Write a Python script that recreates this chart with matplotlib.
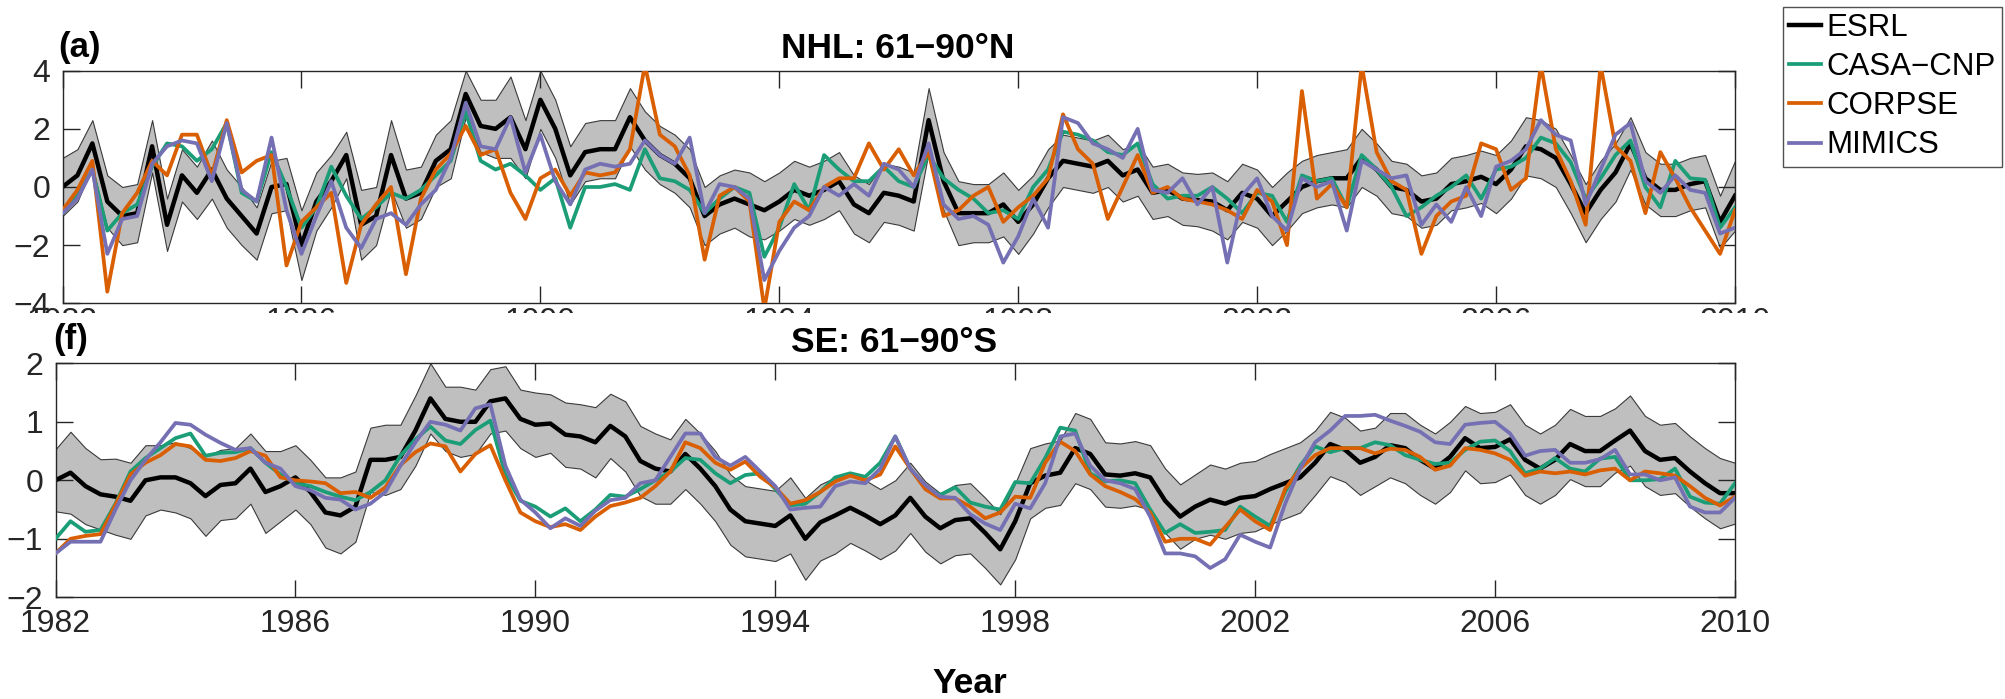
import numpy as np
import matplotlib
matplotlib.use("Agg")
import matplotlib.pyplot as plt
from matplotlib.patches import Rectangle
from matplotlib.lines import Line2D

plt.rcParams['font.family'] = ['Liberation Sans', 'DejaVu Sans']

# ---------------- data (quarterly, 1982.00 ... 2010.00) ----------------
t = np.arange(1982.0, 2010.001, 0.25)

series_names = ['ESRL', 'CASA\u2212CNP', 'CORPSE', 'MIMICS']

# Panel (a) NHL: 61-90N
esrl_n = [0.0, 0.4, 1.5, -0.5,  -1.0, -0.9, 1.4, -1.3,  0.4, -0.2, 0.6, -0.4,  -1.0, -1.6, 0.0, 0.1,
          -2.0, -0.5, 0.2, 1.1,  -1.3, -1.0, 1.1, -0.4,  -0.2, 0.9, 1.3, 3.2,  2.1, 2.0, 2.4, 1.3,
          3.0, 2.0, 0.4, 1.2,  1.3, 1.3, 2.4, 1.6,  1.1, 0.8, 0.3, -1.0,  -0.6, -0.4, -0.6, -0.8,
          -0.5, -0.1, -0.3, -0.1,  0.2, -0.6, -0.9, -0.2,  -0.3, -0.5, 2.3, 0.2,  -0.9, -0.9, -0.9, -0.6,
          -1.2, -0.6, 0.3, 0.9,  0.8, 0.7, 0.9, 0.4,  0.6, -0.2, -0.1, -0.4,  -0.45, -0.5, -0.8, -0.2,
          -0.4, -1.0, -0.5, 0.0,  0.2, 0.3, 0.3, 1.0,  0.6, 0.0, -0.1, -0.5,  -0.4, 0.1, 0.2, 0.35,
          0.1, 0.6, 1.4, 1.3,  1.0, 0.1, -0.9, -0.1,  0.5, 1.5, 0.3, -0.1,  -0.1, 0.1, 0.2, -1.2,
          -0.3]
spread_n = [1.0, 0.9, 0.8, 0.9,  1.0, 1.0, 0.9, 0.9,  0.9, 0.9, 1.0, 1.0,  1.0, 0.9, 0.9, 0.9,
            1.2, 1.0, 0.9, 0.8,  1.2, 1.0, 1.2, 1.0,  0.9, 0.9, 1.0, 0.8,  0.9, 1.0, 1.4, 1.0,
            1.0, 1.0, 1.0, 1.0,  1.0, 1.0, 1.0, 1.0,  1.0, 1.0, 1.0, 1.0,  1.0, 1.0, 1.1, 1.0,
            1.0, 1.0, 1.0, 1.0,  1.0, 1.0, 1.0, 1.0,  1.0, 1.0, 1.1, 1.0,  1.1, 1.0, 1.0, 1.1,
            1.1, 1.0, 1.0, 0.9,  0.9, 0.9, 0.9, 0.9,  0.9, 0.9, 0.9, 0.9,  0.9, 1.0, 1.0, 1.0,
            1.0, 1.0, 1.0, 0.9,  0.9, 0.9, 1.0, 1.0,  0.9, 0.9, 0.9, 0.9,  0.9, 0.9, 0.9, 0.9,
            1.0, 1.0, 1.0, 1.0,  1.0, 1.0, 1.0, 1.0,  1.0, 0.9, 0.9, 0.9,  0.9, 0.9, 0.9, 0.9,
            1.2]
casa_n = [-0.9, -0.3, 0.6, -1.5,  -0.9, -0.6, 0.7, 1.5,  1.4, 0.9, 1.3, 2.2,  -0.2, -0.5, 1.2, 0.0,
          -1.4, -0.7, 0.7, -0.3,  -1.1, -0.7, -0.2, -0.4,  -0.1, 0.4, 0.9, 2.6,  0.9, 0.6, 0.8, 0.4,
          -0.1, 0.3, -1.4, 0.0,  0.0, 0.1, -0.1, 1.3,  0.3, 0.2, -0.1, -0.9,  -0.4, 0.0, -0.2, -2.4,
          -1.4, 0.1, -0.8, 1.1,  0.6, 0.2, 0.2, 0.7,  0.2, 0.0, 1.1, 0.3,  -0.1, -0.4, -0.9, -0.8,
          -1.1, 0.0, 0.6, 1.9,  1.8, 1.6, 1.2, 1.1,  1.5, 0.1, -0.4, -0.3,  -0.3, 0.0, -0.4, -0.9,
          -0.2, -0.3, -1.2, 0.4,  0.2, 0.3, -0.7, 1.1,  0.6, 0.0, -1.0, -0.7,  -0.3, 0.0, 0.4, -0.4,
          0.6, 0.7, 1.0, 1.7,  1.5, 0.85, -0.4, 0.3,  1.1, 1.6, 0.0, -0.7,  0.9, 0.3, 0.25, -1.4,
          -0.7]
corpse_n = [-0.8, -0.1, 0.9, -3.6,  -0.9, -0.2, 0.9, 0.4,  1.8, 1.8, 0.4, 2.3,  0.5, 0.9, 1.1, -2.7,
            -1.2, -0.7, -0.2, -3.3,  -1.3, -0.6, 0.0, -3.0,  -0.4, 0.6, 1.15, 2.1,  1.1, 1.3, -0.2, -1.1,
            0.3, 0.6, -0.3, 0.5,  0.4, 0.5, 1.3, 4.2,  1.8, 1.4, 0.4, -2.5,  -0.3, 0.0, -0.5, -4.2,
            -1.2, -0.5, -0.8, 0.0,  0.3, 0.3, 1.5, 0.6,  1.3, 0.4, 1.2, -1.0,  -0.8, -0.3, 0.0, -1.2,
            -0.7, -0.3, 0.3, 2.5,  1.3, 0.8, -1.1, 0.0,  1.1, -0.2, 0.0, -0.4,  -0.5, -0.6, -0.8, -1.1,
            -0.1, -0.5, -2.0, 3.3,  -0.4, 0.1, -0.7, 4.2,  1.2, 0.2, -0.1, -2.3,  -1.0, -0.5, -0.3, 1.5,
            1.3, -0.1, 0.3, 4.2,  1.3, 0.2, -1.3, 4.2,  1.4, 0.9, -0.9, 1.2,  0.3, -0.7, -1.5, -2.3,
            -0.8]
mimics_n = [-0.9, -0.4, 0.6, -2.3,  -1.1, -1.0, 0.8, 1.4,  1.6, 1.5, 0.2, 2.2,  -0.1, -0.5, 1.7, -0.8,
            -2.3, -1.0, 0.2, -1.4,  -2.1, -1.1, -0.9, -1.3,  -0.6, -0.1, 1.0, 2.9,  1.4, 1.3, 2.4, 0.5,
            1.8, 0.2, -0.6, 0.6,  0.8, 0.7, 0.8, 1.6,  1.1, 0.8, 1.7, -0.9,  0.1, 0.0, -0.4, -3.2,
            -2.2, -1.4, -1.0, 0.0,  -0.3, 0.1, -0.3, 0.8,  0.6, 0.0, 1.5, -0.6,  -1.1, -1.0, -1.3, -2.6,
            -1.7, -0.4, -1.4, 2.4,  2.2, 1.5, 1.3, 1.0,  2.0, -0.1, -0.2, 0.3,  -0.6, 0.0, -2.6, -0.3,
            0.3, -1.0, -1.5, 0.3,  0.0, 0.2, -1.5, 0.9,  0.6, 0.3, 0.4, -1.3,  -0.6, -1.2, 0.0, -1.0,
            0.7, 0.9, 1.3, 2.3,  1.8, 1.6, -0.6, 0.6,  1.8, 2.2, 0.2, -0.2,  0.4, -0.1, -0.2, -1.6,
            -1.4]

# Panel (f) SE: 61-90S
esrl_s = [0.0, 0.13, -0.1, -0.24,  -0.28, -0.35, 0.0, 0.05,  0.05, -0.05, -0.27, -0.08,  -0.05, 0.2, -0.2, -0.1,
          0.05, -0.2, -0.55, -0.6,  -0.45, 0.35, 0.35, 0.4,  0.85, 1.4, 1.05, 1.0,  1.0, 1.35, 1.4, 1.05,
          0.95, 0.97, 0.78, 0.75,  0.65, 0.93, 0.75, 0.33,  0.2, 0.15, 0.45, 0.2,  -0.1, -0.5, -0.7, -0.74,
          -0.78, -0.6, -1.0, -0.72,  -0.6, -0.47, -0.6, -0.75,  -0.6, -0.3, -0.62, -0.82,  -0.68, -0.65, -0.9, -1.18,
          -0.7, -0.05, 0.08, 0.13,  0.55, 0.45, 0.1, 0.08,  0.12, 0.05, -0.35, -0.62,  -0.45, -0.33, -0.4, -0.3,
          -0.27, -0.15, -0.05, 0.05,  0.3, 0.62, 0.52, 0.3,  0.4, 0.6, 0.55, 0.35,  0.2, 0.4, 0.72, 0.55,
          0.57, 0.7, 0.35, 0.2,  0.35, 0.62, 0.5, 0.5,  0.68, 0.85, 0.5, 0.35,  0.38, 0.15, -0.05, -0.22,
          -0.22]
spread_s = [0.53, 0.7, 0.65, 0.6,  0.65, 0.65, 0.6, 0.55,  0.6, 0.6, 0.68, 0.6,  0.6, 0.6, 0.7, 0.6,
            0.55, 0.55, 0.6, 0.65,  0.6, 0.55, 0.6, 0.55,  0.6, 0.6, 0.55, 0.6,  0.55, 0.55, 0.55, 0.5,
            0.55, 0.5, 0.55, 0.55,  0.6, 0.55, 0.6, 0.6,  0.6, 0.55, 0.6, 0.6,  0.6, 0.6, 0.6, 0.6,
            0.6, 0.65, 0.7, 0.65,  0.65, 0.6, 0.6, 0.6,  0.6, 0.6, 0.6, 0.6,  0.6, 0.6, 0.6, 0.6,
            0.65, 0.6, 0.55, 0.55,  0.6, 0.6, 0.55, 0.55,  0.55, 0.55, 0.55, 0.55,  0.55, 0.6, 0.6, 0.6,
            0.6, 0.6, 0.6, 0.6,  0.55, 0.55, 0.55, 0.55,  0.5, 0.55, 0.6, 0.6,  0.6, 0.6, 0.55, 0.6,
            0.6, 0.6, 0.6, 0.6,  0.6, 0.6, 0.6, 0.6,  0.55, 0.6, 0.6, 0.6,  0.6, 0.6, 0.6, 0.6,
            0.52]
casa_s = [-1.0, -0.7, -0.88, -0.85,  -0.4, 0.15, 0.38, 0.55,  0.72, 0.8, 0.42, 0.47,  0.48, 0.55, 0.3, 0.1,
          -0.05, -0.1, -0.2, -0.28,  -0.34, -0.2, 0.0, 0.42,  0.7, 0.92, 0.68, 0.62,  0.86, 1.02, 0.1, -0.35,
          -0.45, -0.62, -0.48, -0.7,  -0.5, -0.25, -0.28, -0.15,  0.0, 0.15, 0.38, 0.35,  0.12, -0.05, 0.09, 0.12,
          -0.15, -0.43, -0.4, -0.2,  0.05, 0.12, 0.06, 0.3,  0.75, 0.2, -0.12, -0.25,  -0.12, -0.38, -0.45, -0.5,
          -0.03, -0.05, 0.38, 0.9,  0.85, 0.12, -0.02, 0.0,  -0.05, -0.5, -0.9, -0.75,  -0.9, -0.88, -0.85, -0.45,
          -0.62, -0.78, -0.2, 0.25,  0.58, 0.48, 0.55, 0.55,  0.65, 0.6, 0.43, 0.35,  0.28, 0.3, 0.52, 0.66,
          0.68, 0.5, 0.12, 0.2,  0.38, 0.2, 0.15, 0.37,  0.4, 0.0, 0.0, 0.02,  0.2, -0.28, -0.38, -0.4,
          -0.05]
corpse_s = [-1.25, -1.0, -0.95, -0.92,  -0.42, 0.1, 0.3, 0.43,  0.62, 0.58, 0.35, 0.33,  0.38, 0.5, 0.42, 0.05,
            0.0, -0.02, -0.05, -0.22,  -0.2, -0.3, -0.12, 0.26,  0.48, 0.63, 0.58, 0.15,  0.45, 0.6, 0.0, -0.55,
            -0.7, -0.8, -0.75, -0.85,  -0.62, -0.44, -0.38, -0.3,  -0.1, 0.15, 0.65, 0.55,  0.3, 0.18, 0.32, 0.06,
            -0.12, -0.4, -0.34, -0.2,  -0.02, 0.08, 0.0, 0.1,  0.58, 0.2, -0.15, -0.31,  -0.31, -0.45, -0.65, -0.55,
            -0.28, -0.3, 0.3, 0.66,  0.5, 0.1, -0.1, -0.2,  -0.32, -0.55, -1.05, -1.0,  -1.0, -1.1, -0.8, -0.5,
            -0.7, -0.85, -0.15, 0.2,  0.43, 0.55, 0.55, 0.55,  0.46, 0.54, 0.52, 0.4,  0.18, 0.25, 0.55, 0.52,
            0.46, 0.35, 0.08, 0.15,  0.12, 0.15, 0.1, 0.17,  0.2, 0.0, 0.15, 0.12,  0.08, -0.1, -0.3, -0.43,
            -0.28]
mimics_s = [-1.25, -1.05, -1.05, -1.05,  -0.5, 0.0, 0.35, 0.65,  0.98, 0.95, 0.78, 0.64,  0.52, 0.55, 0.3, 0.2,
            -0.1, -0.17, -0.3, -0.33,  -0.5, -0.4, -0.2, 0.25,  0.65, 1.0, 0.95, 0.85,  1.23, 1.3, 0.25, -0.33,
            -0.55, -0.82, -0.65, -0.78,  -0.52, -0.34, -0.3, -0.05,  0.0, 0.4, 0.8, 0.8,  0.4, 0.25, 0.4, 0.15,
            -0.1, -0.5, -0.47, -0.45,  -0.1, -0.02, -0.05, 0.2,  0.75, 0.2, -0.08, -0.28,  -0.3, -0.58, -0.74, -0.85,
            -0.4, -0.48, -0.05, 0.75,  0.8, 0.25, 0.0, -0.05,  -0.15, -0.62, -1.25, -1.25,  -1.3, -1.5, -1.35, -0.93,
            -1.05, -1.15, -0.4, 0.2,  0.65, 0.85, 1.1, 1.1,  1.12, 1.02, 0.93, 0.83,  0.65, 0.62, 0.95, 0.98,
            1.0, 0.8, 0.42, 0.5,  0.52, 0.3, 0.3, 0.36,  0.52, 0.1, 0.1, 0.0,  0.05, -0.45, -0.55, -0.55,
            -0.3]

year_ticks = [1982, 1986, 1990, 1994, 1998, 2002, 2006, 2010]

# ---------------- styling ----------------
C_ESRL = 'black'
C_CASA = '#1b9e77'
C_CORP = '#d95f02'
C_MIMI = '#7570b3'
AX_COL = '#262626'
LW_E, LW_M = 3.2, 2.7

W, H = 2005, 699
fig = plt.figure(figsize=(W / 100, H / 100), dpi=100)


def fpos(l, t_, r, b):
    return [l / W, 1 - b / H, (r - l) / W, (b - t_) / H]


ax1 = fig.add_axes(fpos(62.5, 70.7, 1735, 303.3))
ax2 = fig.add_axes(fpos(55.5, 363.3, 1735, 597.3))


def style(ax, ylim, yticks, xpad):
    ax.set_xlim(1982, 2010)
    ax.set_ylim(*ylim)
    ax.set_xticks(year_ticks)
    ax.set_yticks(yticks)
    ax.tick_params(direction='in', length=12.2, width=1.0, color=AX_COL,
                   labelcolor=AX_COL, labelsize=23, top=True, right=True)
    ax.tick_params(axis='x', pad=xpad)
    ax.tick_params(axis='y', pad=8.8)
    for s in ax.spines.values():
        s.set_color(AX_COL)
        s.set_linewidth(1.0)


def draw(ax, esrl, spread, casa, corp, mimi):
    e = np.asarray(esrl)
    sp = np.asarray(spread)
    ax.fill_between(t, e - sp, e + sp, facecolor='#bfbfbf', edgecolor='#3a3a3a',
                    linewidth=0.8, zorder=1)
    ax.plot(t, e, color=C_ESRL, lw=LW_E, zorder=2)
    ax.plot(t, casa, color=C_CASA, lw=LW_M, zorder=3)
    ax.plot(t, corp, color=C_CORP, lw=LW_M, zorder=4)
    ax.plot(t, mimi, color=C_MIMI, lw=LW_M, zorder=5)


draw(ax1, esrl_n, spread_n, casa_n, corpse_n, mimics_n)
draw(ax2, esrl_s, spread_s, casa_s, corpse_s, mimics_s)
style(ax1, (-4, 4), [-4, -2, 0, 2, 4], 2.5)
style(ax2, (-2, 2), [-2, -1, 0, 1, 2], 8.5)

# the lower panel hides most of the upper panel's year labels (only their tops show)
cover = Rectangle((0, 1 - 330 / H), 1, (330 - 313.0) / H, transform=fig.transFigure,
                  facecolor='white', edgecolor='none', zorder=5)
fig.add_artist(cover)

# texts
fig.text(58 / W, 1 - 57 / H, '(a)', fontsize=25, fontweight='bold', ha='left', va='baseline', zorder=10)
fig.text(898 / W, 1 - 58 / H, 'NHL: 61\u221290\u00b0N', fontsize=25.5, fontweight='bold',
         ha='center', va='baseline', zorder=10)
fig.text(53 / W, 1 - 349 / H, '(f)', fontsize=25, fontweight='bold', ha='left', va='baseline', zorder=10)
fig.text(894 / W, 1 - 352 / H, 'SE: 61\u221290\u00b0S', fontsize=25.5, fontweight='bold',
         ha='center', va='baseline', zorder=10)
fig.text(970 / W, 1 - 693 / H, 'Year', fontsize=25.5, fontweight='bold',
         ha='center', va='baseline', zorder=10)

handles = [Line2D([], [], color=C_ESRL, lw=LW_E), Line2D([], [], color=C_CASA, lw=LW_M),
           Line2D([], [], color=C_CORP, lw=LW_M), Line2D([], [], color=C_MIMI, lw=LW_M)]
leg = fig.legend(handles, series_names, loc='upper left', bbox_to_anchor=(1783 / W, 1 - 7 / H),
                 borderaxespad=0, fontsize=22.5, handlelength=1.02, handletextpad=0.16,
                 borderpad=0.2, labelspacing=0.29, frameon=True, fancybox=False)
leg.get_frame().set_edgecolor(AX_COL)
leg.get_frame().set_linewidth(1.0)
leg.set_zorder(10)

fig.savefig('out.png', dpi=100)
